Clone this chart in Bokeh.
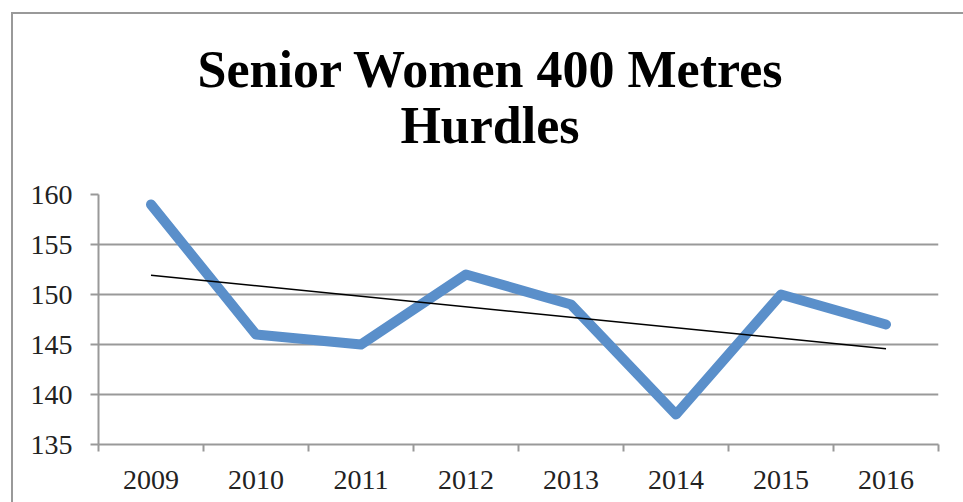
from bokeh.plotting import figure
from bokeh.models import Range1d, FixedTicker, Div
from bokeh.layouts import column
from bokeh.embed import file_html
from bokeh.resources import INLINE

# ---- data ----
years = ["2009", "2010", "2011", "2012", "2013", "2014", "2015", "2016"]
times = [159, 146, 145, 152, 149, 138, 150, 147]
y_ticks = [135, 140, 145, 150, 155, 160]
title_lines = ["Senior Women 400 Metres", "Hurdles"]

# positions of categories
xs = list(range(len(years)))

# linear trend line (least squares) from the data
n = len(xs)
mx = sum(xs) / n
my = sum(times) / n
slope = sum((a - mx) * (b - my) for a, b in zip(xs, times)) / sum((a - mx) ** 2 for a in xs)
icpt = my - slope * mx
trend_x = [xs[0], xs[-1]]
trend_y = [icpt + slope * v for v in trend_x]

FONT = "Liberation Serif"
GRID = "#999999"

# ---- title (HTML block above the plot) ----
title_html = (
    '<div style="width:970px;text-align:center;font-family:\'Liberation Serif\';'
    'font-weight:bold;font-size:52px;line-height:56px;padding-top:37px;color:#000;">'
    f'{title_lines[0]}<br>{title_lines[1]}</div>'
)
title_div = Div(text=title_html, width=955, height=150)

W, H = 955, 343
p = figure(width=W, height=H, output_backend="svg", toolbar_location=None,
           x_range=Range1d(-0.5, len(years) - 0.5), y_range=Range1d(135, 160),
           min_border_left=98, min_border_right=17, min_border_top=34, min_border_bottom=59)
p.outline_line_color = None
p.background_fill_color = "white"
p.border_fill_alpha = 0

# x axis
p.xaxis.ticker = FixedTicker(ticks=xs, minor_ticks=[v - 0.5 for v in xs] + [xs[-1] + 0.5])
p.xaxis.major_label_overrides = {i: y for i, y in zip(xs, years)}
p.xaxis.major_tick_out = 0
p.xaxis.major_tick_in = 0
p.xaxis.minor_tick_out = 7
p.xaxis.minor_tick_in = 0
p.xaxis.minor_tick_line_color = GRID
p.xaxis.minor_tick_line_width = 2
p.xaxis.axis_line_color = GRID
p.xaxis.axis_line_width = 2
p.xaxis.major_label_text_font = FONT
p.xaxis.major_label_text_font_size = "28px"
p.xaxis.major_label_text_color = "#222222"
p.xaxis.major_label_standoff = 19

# y axis
p.yaxis.ticker = FixedTicker(ticks=y_ticks)
p.yaxis.major_tick_out = 8
p.yaxis.major_tick_in = 0
p.yaxis.minor_tick_line_color = None
p.yaxis.major_tick_line_color = GRID
p.yaxis.major_tick_line_width = 2
p.yaxis.axis_line_color = GRID
p.yaxis.axis_line_width = 2
p.yaxis.major_label_text_font = FONT
p.yaxis.major_label_text_font_size = "28px"
p.yaxis.major_label_text_color = "#222222"
p.yaxis.major_label_standoff = 18

p.xgrid.grid_line_color = None
p.ygrid.ticker = FixedTicker(ticks=y_ticks)
p.ygrid.grid_line_color = GRID
p.ygrid.grid_line_width = 2

# series
p.line(xs, times, line_color="#5A8FCA", line_width=10, line_join="round", line_cap="round")
p.line(trend_x, trend_y, line_color="black", line_width=1.5)

layout = column(title_div, p, spacing=0)
layout.styles = {
    "background-image": "linear-gradient(#999999, #999999), linear-gradient(#999999, #999999)",
    "background-position": "11px 12px, 11px 12px",
    "background-size": "2px 100%, 100% 2px",
    "background-repeat": "no-repeat",
}

open("out.html", "w").write(file_html(layout, INLINE))
